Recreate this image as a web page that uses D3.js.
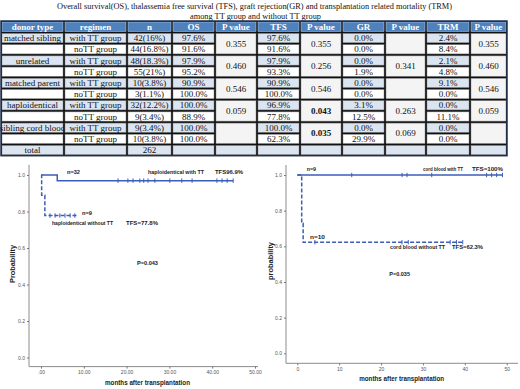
<!DOCTYPE html>
<html>
<head>
<meta charset="utf-8">
<script src="https://cdnjs.cloudflare.com/ajax/libs/d3/7.8.5/d3.min.js"></script>
<style>
  body { margin: 0; background: #fff; }
  svg { display: block; }
</style>
</head>
<body>
<svg id="chart" width="520" height="389"></svg>
<script>
// ---- data ----
const titleLines = [
    "Overall survival(OS), thalassemia free survival (TFS), graft rejection(GR) and transplantation related mortality (TRM)",
    "among TT group and without TT group"
];
const headers = ["donor type", "regimen", "n", "OS", "P value", "TFS", "P value", "GR", "P value", "TRM", "P value"];
const donorTypes = ["matched sibling", "unrelated", "matched parent", "haploidentical", "sibling cord blood"];
const regimens = ["with TT group", "noTT group"];
const nValues = ["42(16%)", "44(16.8%)", "48(18.3%)", "55(21%)", "10(3.8%)", "3(1.1%)", "32(12.2%)", "9(3.4%)", "9(3.4%)", "10(3.8%)"];
const osValues = ["97.6%", "91.6%", "97.9%", "95.2%", "90.9%", "100.0%", "100.0%", "88.9%", "100.0%", "100.0%"];
const osP = ["0.355", "0.460", "0.546", "0.059", ""];
const tfsValues = ["97.6%", "91.6%", "97.9%", "93.3%", "90.9%", "100.0%", "96.9%", "77.8%", "100.0%", "62.3%"];
const tfsP = ["0.355", "0.256", "0.546", "0.043", "0.035"];
const tfsPBold = [false, false, false, true, true];
const grValues = ["0.0%", "0.0%", "0.0%", "1.9%", "0.0%", "0.0%", "3.1%", "12.5%", "0.0%", "29.9%"];
const grP = ["", "0.341", "", "0.263", "0.069"];
const trmValues = ["2.4%", "8.4%", "2.1%", "4.8%", "9.1%", "0.0%", "0.0%", "11.1%", "0.0%", "0.0%"];
const trmP = ["0.355", "0.460", "0.546", "0.059", ""];
const totalN = "262";

// Kaplan-Meier curves (time in months, survival fraction)
const hapWith = [{ t: 0, s: 1 }, { t: 3.8, s: 0.969 }];
const hapWithEnd = 44.9;
const hapWithCensor = [18, 20.3, 21.5, 23.1, 24, 25, 26.6, 30.1, 32.9, 35.3, 41.1, 42.3, 43.5, 44.9];
const hapWithout = [{ t: 0, s: 1 }, { t: 0.15, s: 0.889 }, { t: 0.9, s: 0.778 }];
const hapWithoutEnd = 8.5;
const hapWithoutCensor = [2.1, 3.3, 4.4, 5.6, 6.8, 7.9];

const cordWith = [{ t: 0, s: 1 }];
const cordWithEnd = 49;
const cordWithCensor = [13, 25, 26.2, 32.1, 45.2, 46.4, 47.6, 49];
const cordWithout = [{ t: 0, s: 1 }, { t: 1.05, s: 0.73 }, { t: 1.4, s: 0.623 }];
const cordWithoutEnd = 39.5;
const cordWithoutCensor = [4.2, 25, 26.5, 36.5, 38, 39.5];

const yTicks = [0, 0.2, 0.4, 0.6, 0.8, 1.0];
const xTicks = [0, 10, 20, 30, 40, 50];

// ---- drawing ----
const svg = d3.select("#chart");
svg.append("rect").attr("width", 520).attr("height", 389).attr("fill", "#fff");

const serif = "'Liberation Serif', 'Times New Roman', serif";
const sans = "'Liberation Sans', Arial, sans-serif";

// Title
const titleSpans = [[57, 452, 8.5], [190, 321, 18.5]];
titleLines.forEach((t, i) => {
    svg.append("text")
        .attr("x", titleSpans[i][0])
        .attr("y", titleSpans[i][2])
        .attr("textLength", titleSpans[i][1] - titleSpans[i][0])
        .attr("lengthAdjust", "spacingAndGlyphs")
        .style("font-family", serif)
        .style("font-size", "8.5px")
        .attr("fill", "#111")
        .text(t);
});

// Table
const colEdges = [1, 64, 127, 172, 215, 257, 300, 342, 385, 426, 470, 507];
const headerTop = 21, headerBottom = 32.5, tableBottom = 155.7;
const rowY = d3.scaleLinear().domain([0, 11]).range([headerBottom, tableBottom]);

const blueLight = "#dbe5f1", pGray = "#f4f4f4", headBlue = "#4f81bd";
const table = svg.append("g");

table.append("rect")
    .attr("x", colEdges[0]).attr("y", headerTop)
    .attr("width", colEdges[11] - colEdges[0]).attr("height", tableBottom - headerTop)
    .attr("fill", "#111");

function cell(c0, c1, r0, r1, fill, label, opts = {}) {
    const x0 = colEdges[c0], x1 = colEdges[c1];
    const y0 = r0 < 0 ? headerTop : rowY(r0);
    const y1 = r0 < 0 ? headerBottom : rowY(r1);
    table.append("rect")
        .attr("x", x0 + 1).attr("y", y0 + 1)
        .attr("width", x1 - x0 - 2).attr("height", y1 - y0 - 2)
        .attr("fill", fill)
        .attr("stroke", opts.stroke || "#8a8a8a")
        .attr("stroke-width", 0.5);
    if (label) {
        table.append("text")
            .attr("x", (x0 + x1) / 2)
            .attr("y", (y0 + y1) / 2 + 3)
            .attr("text-anchor", "middle")
            .style("font-family", serif)
            .style("font-size", "9px")
            .style("font-weight", opts.bold ? "bold" : "normal")
            .attr("fill", opts.color || "#111")
            .text(label);
    }
}

headers.forEach((h, i) => cell(i, i + 1, -1, 0, headBlue, h, { bold: true, color: "#fff", stroke: "#c6d5ea" }));

donorTypes.forEach((d, g) => {
    const r = 2 * g;
    [0, 1].forEach(k => {
        const row = r + k;
        const fill = k === 0 ? blueLight : "#fff";
        cell(0, 1, row, row + 1, fill, k === 0 ? d : "");
        cell(1, 2, row, row + 1, fill, regimens[k]);
        cell(2, 3, row, row + 1, fill, nValues[row]);
        cell(3, 4, row, row + 1, fill, osValues[row]);
        cell(5, 6, row, row + 1, fill, tfsValues[row]);
        cell(7, 8, row, row + 1, fill, grValues[row]);
        cell(9, 10, row, row + 1, fill, trmValues[row]);
    });
    cell(4, 5, r, r + 2, pGray, osP[g]);
    cell(6, 7, r, r + 2, pGray, tfsP[g], { bold: tfsPBold[g] });
    cell(8, 9, r, r + 2, pGray, grP[g]);
    cell(10, 11, r, r + 2, pGray, trmP[g]);
});
for (let c = 0; c < 11; c++) {
    cell(c, c + 1, 10, 11, blueLight, c === 0 ? "total" : c === 2 ? totalN : "");
}
table.append("rect")
    .attr("x", colEdges[0]).attr("y", headerTop)
    .attr("width", colEdges[11] - colEdges[0]).attr("height", tableBottom - headerTop)
    .attr("fill", "none").attr("stroke", "#1f2f4f").attr("stroke-width", 1.5);

// Kaplan-Meier plots
const curveColor = "#3d5db8";

function drawKM(cfg) {
    const g = svg.append("g");
    const x = d3.scaleLinear().domain([0, 50]).range(cfg.xRange);
    const y = d3.scaleLinear().domain([0, 1]).range(cfg.yRange);

    // axis lines
    g.append("line")
        .attr("x1", cfg.axisX).attr("x2", cfg.axisX)
        .attr("y1", y(1.056)).attr("y2", cfg.axisY)
        .attr("stroke", "#8c8c8c").attr("stroke-width", 1);
    g.append("line")
        .attr("x1", cfg.axisX).attr("x2", cfg.xLineEnd)
        .attr("y1", cfg.axisY).attr("y2", cfg.axisY)
        .attr("stroke", "#8c8c8c").attr("stroke-width", 1);

    const yAxis = g.append("g")
        .attr("transform", `translate(${cfg.axisX},0)`)
        .call(d3.axisLeft(y).tickValues(yTicks).tickSize(2).tickPadding(2).tickFormat(d3.format(".1f")));
    const xAxis = g.append("g")
        .attr("transform", `translate(0,${cfg.axisY})`)
        .call(d3.axisBottom(x).tickValues(xTicks).tickSize(2).tickPadding(2).tickFormat(cfg.xFormat));
    [yAxis, xAxis].forEach(a => {
        a.select(".domain").remove();
        a.selectAll("line").attr("stroke", "#777");
        a.selectAll("text")
            .attr("fill", "#555")
            .style("font-family", sans)
            .style("font-size", "5px");
    });

    // axis titles
    g.append("text")
        .attr("x", cfg.xTitle[0]).attr("y", cfg.xTitle[1])
        .attr("text-anchor", "middle")
        .attr("textLength", 85).attr("lengthAdjust", "spacingAndGlyphs")
        .style("font-family", sans).style("font-size", "6.5px").style("font-weight", "bold")
        .attr("fill", "#222")
        .text("months after transplantation");
    g.append("text")
        .attr("transform", `translate(${cfg.yTitle[0]},${cfg.yTitle[1]}) rotate(-90)`)
        .attr("text-anchor", "middle")
        .attr("textLength", 38).attr("lengthAdjust", "spacingAndGlyphs")
        .style("font-family", sans).style("font-size", "6.5px").style("font-weight", "bold")
        .attr("fill", "#222")
        .text(cfg.yLabel);

    // curves
    const line = d3.line().x(d => x(d.t)).y(d => y(d.s)).curve(d3.curveStepAfter);
    cfg.curves.forEach(cv => {
        const pts = cv.steps.concat([{ t: cv.end, s: cv.steps[cv.steps.length - 1].s }]);
        g.append("path")
            .attr("d", line(pts))
            .attr("fill", "none")
            .attr("stroke", curveColor)
            .attr("stroke-width", 1.5)
            .attr("stroke-dasharray", cv.dashed ? "4,2" : null);
        const survAt = t => {
            let s = 1;
            cv.steps.forEach(p => { if (p.t <= t) s = p.s; });
            return s;
        };
        g.selectAll(null)
            .data(cv.censor)
            .enter()
            .append("line")
            .attr("x1", d => x(d)).attr("x2", d => x(d))
            .attr("y1", d => y(survAt(d)) - 2.2).attr("y2", d => y(survAt(d)) + 2.2)
            .attr("stroke", curveColor).attr("stroke-width", 1);
    });

    // annotations
    cfg.notes.forEach(n => {
        g.append("text")
            .attr("x", n[0]).attr("y", n[2] + 2)
            .attr("textLength", n[1] - n[0]).attr("lengthAdjust", "spacingAndGlyphs")
            .style("font-family", sans).style("font-size", "5px").style("font-weight", "bold")
            .attr("fill", "#222")
            .text(n[3]);
    });
}

drawKM({
    xRange: [41, 255], yRange: [357.5, 175],
    axisX: 29, axisY: 366.6, xLineEnd: 258,
    xFormat: d => d === 0 ? ".00" : d3.format(".2f")(d),
    xTitle: [147.5, 384.5], yTitle: [15, 264], yLabel: "Probability",
    curves: [
        { steps: hapWith, end: hapWithEnd, censor: hapWithCensor, dashed: false },
        { steps: hapWithout, end: hapWithoutEnd, censor: hapWithoutCensor, dashed: true }
    ],
    notes: [
        [67, 80, 172, "n=32"],
        [148, 204, 172, "haploidentical with TT"],
        [215, 243, 172, "TFS96.9%"],
        [82, 92, 213, "n=9"],
        [52, 113, 222.7, "haploidentical without TT"],
        [126, 158, 222.7, "TFS=77.8%"],
        [137, 158, 262.7, "P=0.043"]
    ]
});

drawKM({
    xRange: [297.3, 506.7], yRange: [353.3, 175],
    axisX: 286, axisY: 363.3, xLineEnd: 518,
    xFormat: d3.format("d"),
    xTitle: [401.7, 381], yTitle: [273, 261], yLabel: "probability",
    curves: [
        { steps: cordWith, end: cordWithEnd, censor: cordWithCensor, dashed: false },
        { steps: cordWithout, end: cordWithoutEnd, censor: cordWithoutCensor, dashed: true }
    ],
    notes: [
        [306.7, 316, 169, "n=9"],
        [423, 463, 169.3, "cord blood with TT"],
        [472, 503, 169.3, "TFS=100%"],
        [310, 325, 236.7, "n=10"],
        [390, 445, 247.3, "cord blood without TT"],
        [452, 483, 247.3, "TFS=62.3%"],
        [389.3, 410, 274.3, "P=0.035"]
    ]
});
</script>
</body>
</html>
